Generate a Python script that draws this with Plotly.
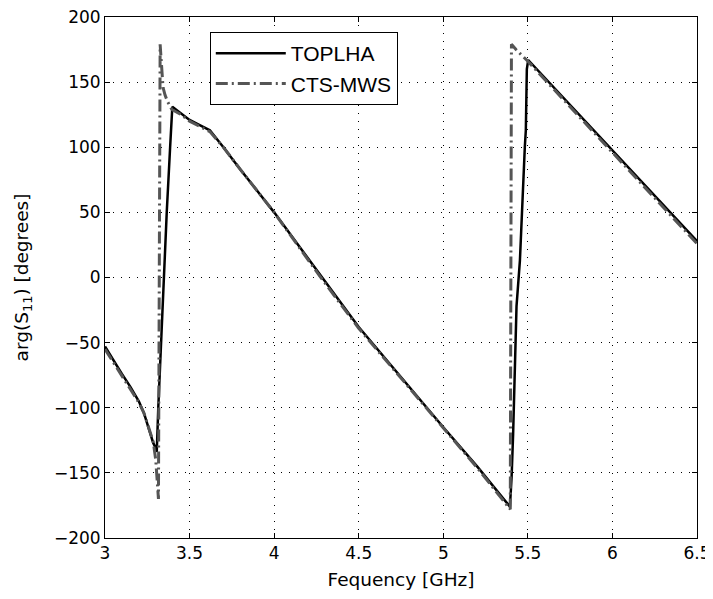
import plotly.graph_objects as go

# ---- data ----
freq_toplha = [3.000, 3.050, 3.100, 3.150, 3.200, 3.230, 3.260, 3.285, 3.300, 3.306,
               3.315, 3.325, 3.335, 3.345, 3.355, 3.365, 3.385, 3.392, 3.398, 3.450,
               3.500, 3.560, 3.620, 3.700, 3.800, 4.000, 4.270, 4.500, 5.000, 5.200,
               5.394, 5.404, 5.413, 5.423, 5.433, 5.453, 5.463, 5.472, 5.482, 5.488,
               5.494, 5.502, 6.000, 6.500]
phase_toplha = [-53, -64, -74, -84, -95, -104, -117, -127, -131, -134,
                -100, -69, -43, -17, 11, 50, 100, 120, 131, 126,
                121, 117, 113, 100, 83, 50, 2, -38, -115, -145,
                -176, -153, -120, -61, -22, 13, 47, 80, 100, 113,
                160, 167, 98, 28]

freq_cts = [3.000, 3.050, 3.100, 3.150, 3.200, 3.230, 3.260, 3.285, 3.300, 3.310,
            3.316, 3.326, 3.335, 3.343, 3.355, 3.370, 3.395, 3.450, 3.500, 3.560,
            3.620, 3.700, 3.800, 4.000, 4.270, 4.500, 5.000, 5.200, 5.396, 5.403,
            5.430, 5.500, 6.000, 6.500]
phase_cts = [-55, -65, -75, -85, -96, -104, -116, -126, -140, -155,
             -170, 179, 160, 146, 140, 135, 129, 125, 120, 116,
             112, 100, 83, 50, 1, -39, -116, -146, -178, 179,
             175, 166, 96, 26]

x_ticks = [3, 3.5, 4, 4.5, 5, 5.5, 6, 6.5]
x_tick_labels = ["3", "3.5", "4", "4.5", "5", "5.5", "6", "6.5"]
y_ticks = [-200, -150, -100, -50, 0, 50, 100, 150, 200]

series_names = ["TOPLHA", "CTS-MWS"]

tick_font = dict(family="DejaVu Sans", size=17, color="black")
title_font = dict(family="DejaVu Sans", size=18.5, color="black")

fig = go.Figure()
fig.add_trace(go.Scatter(
    x=freq_toplha, y=phase_toplha, mode="lines", name=series_names[0],
    line=dict(color="black", width=2.5)))
fig.add_trace(go.Scatter(
    x=freq_cts, y=phase_cts, mode="lines", name=series_names[1],
    line=dict(color="#555555", width=3, dash="12px,4px,2px,4px")))

axis_common = dict(
    showline=True, linecolor="black", linewidth=1, mirror="allticks",
    ticks="inside", ticklen=5, tickcolor="black", tickwidth=1,
    showgrid=True, gridcolor="black", gridwidth=1, griddash="1px,7px",
    zeroline=False, tickfont=tick_font, automargin=False,
    ticklabeloverflow="allow",
)

fig.update_xaxes(range=[3, 6.5], tickvals=x_ticks, ticktext=x_tick_labels,
                 title=dict(text="Fequency [GHz]", font=title_font, standoff=10),
                 **axis_common)
fig.update_yaxes(range=[-200, 200], tickvals=y_ticks,
                 title=dict(text="arg(S<sub>11</sub>) [degrees]", font=title_font, standoff=20),
                 **axis_common)

# the page adds an 8 px body margin, so the figure is sized/offset to compensate
fig.update_layout(
    width=705, height=591,
    margin=dict(l=97, r=16, t=9, b=61),
    plot_bgcolor="white", paper_bgcolor="white",
    showlegend=True,
    legend=dict(x=0.177, y=0.971, xanchor="left", yanchor="top",
                bgcolor="white", bordercolor="black", borderwidth=1,
                font=dict(family="Liberation Sans", size=21, color="black"),
                itemwidth=70, tracegroupgap=0),
)

fig.write_html("out.html")
